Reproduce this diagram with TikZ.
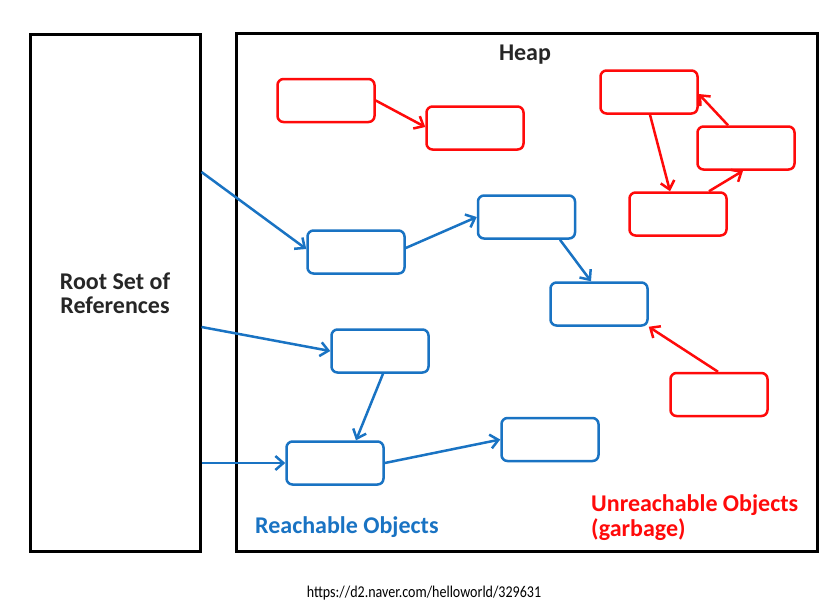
\documentclass[tikz,border=0pt]{standalone}
\usepackage{fontspec}
\setmainfont{Carlito}
\newfontfamily\urlfont[FakeStretch=0.85]{Carlito}
\usetikzlibrary{arrows.meta}
\definecolor{objblue}{RGB}{25,115,195}
\definecolor{objred}{RGB}{255,10,10}
\tikzset{
  frame/.style={draw=black, line width=3pt, inner sep=0pt},
  objbox/.style={draw, line width=2.5pt, rounded corners=6pt, minimum width=97pt, minimum height=43pt, inner sep=0pt},
  liveobj/.style={objbox, draw=objblue},
  deadobj/.style={objbox, draw=objred},
  link/.style={line width=2.5pt, -{Straight Barb[length=8pt,width=14pt,line width=2.5pt]}},
  livelink/.style={link, draw=objblue},
  deadlink/.style={link, draw=objred},
  bigtext/.style={font=\bfseries\fontsize{24}{24}\selectfont},
}
\begin{document}
\begin{tikzpicture}[x=1pt,y=-1pt]
\fill[white] (0,0) rectangle (832,614);
\useasboundingbox (0,0) rectangle (832,614);

% frames
\node[frame, minimum width=170pt, minimum height=517pt] (root) at (115,292.5) {};
\node[frame, minimum width=581pt, minimum height=518pt] (heap) at (526.5,292) {};
\node[align=center, bigtext, text=black!85] (roottext) at (115,293) {Root Set of\\References};
\node[bigtext, text=black!85] (heaptext) at (525,55) {Heap};

% red (unreachable)
\node[deadobj] (R1) at (326,100.5) {};
\node[deadobj] (R2) at (475,128) {};
\node[deadobj] (R3) at (649,92) {};
\node[deadobj] (R4) at (746,148) {};
\node[deadobj] (R5) at (678,214) {};
\node[deadobj] (R6) at (719,394.5) {};

% blue (reachable)
\node[liveobj] (B1) at (356,252) {};
\node[liveobj] (B2) at (526.5,217) {};
\node[liveobj] (B3) at (599,304) {};
\node[liveobj] (B4) at (380,351) {};
\node[liveobj] (B5) at (335,463) {};
\node[liveobj] (B6) at (550,439.5) {};

% reachable links
\draw[livelink] ([yshift=120.5pt]root.east) -- ([yshift=3pt]B1.west);
\draw[livelink] ([yshift=-34.5pt]root.east) -- (B4.west);
\draw[livelink] ([yshift=-170.5pt]root.east) -- (B5.west);
\draw[livelink] ([yshift=4pt]B1.east) -- (B2.west);
\draw[livelink] ([xshift=33.5pt]B2.south) -- ([xshift=-8pt]B3.north);
\draw[livelink] ([xshift=3pt]B4.south) -- ([xshift=21pt]B5.north);
\draw[livelink] (B5.east) -- (B6.west);

% unreachable links
\draw[deadlink] (R1.east) -- ([yshift=1pt]R2.west);
\draw[deadlink] ([xshift=1pt]R3.south) -- ([xshift=-8pt]R5.north);
\draw[deadlink] ([xshift=31pt]R5.north) -- ([xshift=-3pt]R4.south);
\draw[deadlink] ([xshift=-18pt]R4.north) -- ([yshift=-2pt]R3.east);
\draw[deadlink] ([xshift=-1pt]R6.north) -- (B3.south east);

% labels
\node[text=objblue, bigtext, anchor=base west, inner sep=0pt] (reachlbl) at (255,533) {Reachable Objects};
\node[text=objred, font=\bfseries\fontsize{24}{25}\selectfont, align=left, anchor=north west, inner sep=0pt] (unreachlbl) at (591,494) {Unreachable Objects\\(garbage)};
\node[font=\urlfont\fontsize{16.5}{16.5}\selectfont] (url) at (424,593) {https://d2.naver.com/helloworld/329631};
\end{tikzpicture}
\end{document}
